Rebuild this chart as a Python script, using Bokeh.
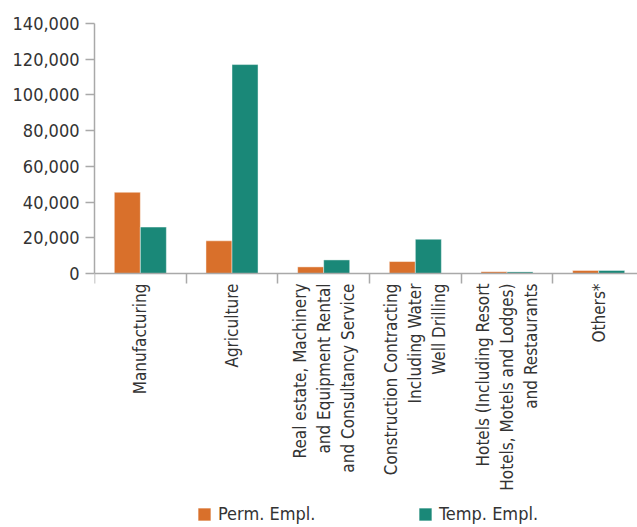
import math
from bokeh.plotting import figure
from bokeh.models import (ColumnDataSource, FixedTicker, NumeralTickFormatter,
                          Legend, LegendItem, Range1d)
from bokeh.transform import dodge
from bokeh.embed import file_html
from bokeh.resources import INLINE

categories = [
    "Manufacturing",
    "Agriculture",
    "Real estate, Machinery\nand Equipment Rental\nand Consultancy Service",
    "Construction Contracting\nIncluding Water\nWell Drilling",
    "Hotels (Including Resort\nHotels, Motels and Lodges)\nand Restaurants",
    "Others*",
]
perm_empl = [45500, 18300, 3700, 6700, 1000, 1700]
temp_empl = [26000, 117000, 7600, 19200, 900, 1700]
y_ticks = [0, 20000, 40000, 60000, 80000, 100000, 120000, 140000]
series_names = ["Perm. Empl.", "Temp. Empl."]

FONT = "DejaVu Sans Condensed"
ORANGE = "#d9702b"
TEAL = "#1a8878"
AXIS = "#a9a9a9"
TXT = "#333333"

Y_MAX = 140000
# frame spans to the bottom of the page; value 0 sits 250px below the top
Y_MIN = -Y_MAX * (504 / 250 - 1)

idx = list(range(len(categories)))
src = ColumnDataSource(dict(x=idx, perm=perm_empl, temp=temp_empl))

p = figure(frame_width=543, frame_height=504, output_backend="svg",
           toolbar_location=None,
           x_range=Range1d(-0.5, 5.4235), y_range=Range1d(Y_MIN, Y_MAX),
           min_border_left=94, min_border_right=0, min_border_top=23,
           min_border_bottom=0)

w = 0.284
r1 = p.vbar(x=dodge("x", -w / 2, range=p.x_range), top="perm", bottom=0, width=w,
            source=src, fill_color=ORANGE, line_color="white", line_alpha=0.45,
            line_width=1)
r2 = p.vbar(x=dodge("x", w / 2, range=p.x_range), top="temp", bottom=0, width=w,
            source=src, fill_color=TEAL, line_color="white", line_alpha=0.45,
            line_width=1)

p.xgrid.visible = False
p.ygrid.visible = False
p.outline_line_color = None

# y axis
ya = p.yaxis[0]
ya.ticker = FixedTicker(ticks=y_ticks, minor_ticks=[])
ya.bounds = (0, Y_MAX)
ya.formatter = NumeralTickFormatter(format="0,0")
ya.axis_line_color = AXIS
ya.axis_line_width = 1.5
ya.major_tick_line_color = AXIS
ya.major_tick_line_width = 1.5
ya.major_tick_out = 9
ya.major_tick_in = 0
ya.major_label_standoff = 6
ya.major_label_text_font = FONT
ya.major_label_text_font_size = "18px"
ya.major_label_text_color = TXT

# x axis at value 0: labels at centres, separator ticks at boundaries
xa = p.xaxis[0]
xa.fixed_location = 0
bounds = [i - 0.5 for i in idx] + [len(idx) - 0.5]
xa.ticker = FixedTicker(ticks=idx, minor_ticks=bounds)
xa.major_label_overrides = {i: c for i, c in zip(idx, categories)}
xa.major_label_orientation = math.pi / 2
xa.axis_line_color = AXIS
xa.axis_line_width = 1.5
xa.major_tick_line_color = None
xa.major_tick_out = 0
xa.major_tick_in = 0
xa.minor_tick_line_color = AXIS
xa.minor_tick_line_width = 1.5
xa.minor_tick_out = 10
xa.minor_tick_in = 0
xa.major_label_standoff = 0
xa.major_label_text_font = FONT
xa.major_label_text_font_size = "17px"
xa.major_label_text_color = TXT

legend = Legend(items=[LegendItem(label=series_names[0], renderers=[r1]),
                       LegendItem(label=series_names[1], renderers=[r2])],
                orientation="horizontal",
                glyph_width=16, glyph_height=16, label_standoff=6,
                label_width=199, spacing=0, padding=0, margin=0,
                border_line_color=None, background_fill_alpha=0,
                label_text_font=FONT, label_text_font_size="18px",
                label_text_color=TXT, location=(102, 3))
p.add_layout(legend)

open("out.html", "w").write(file_html(p, INLINE))
